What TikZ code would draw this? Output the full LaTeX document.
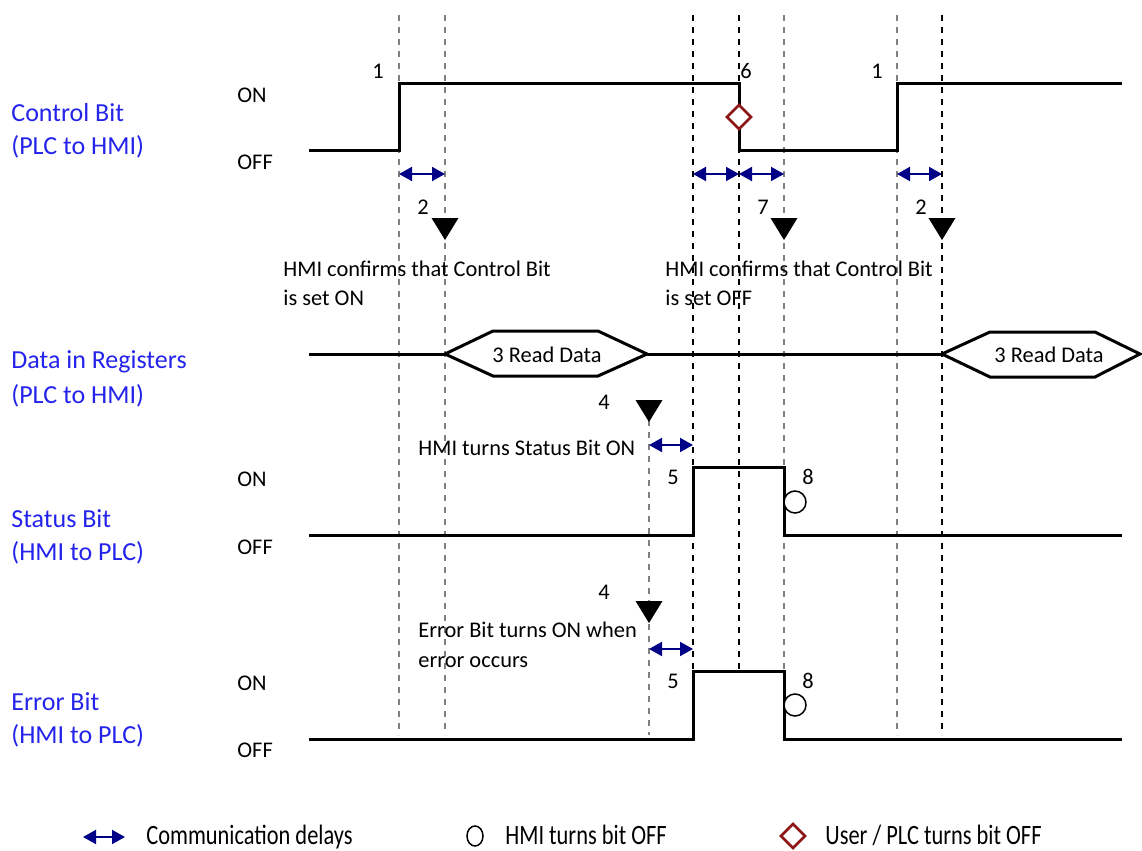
\documentclass[tikz,border=0pt]{standalone}
\usepackage{fontspec}
\setmainfont{Carlito}
\newfontfamily\keyfont{Carlito}[FakeStretch=0.8]
\usepackage{tikz}
\usetikzlibrary{arrows.meta}
\pgfdeclarelayer{edgelayer}
\pgfdeclarelayer{nodelayer}
\pgfsetlayers{edgelayer,nodelayer,main}
\definecolor{labelblue}{RGB}{35,35,235}
\definecolor{delayblue}{RGB}{0,0,135}
\definecolor{offred}{RGB}{140,22,22}
\tikzstyle{guide}=[draw=black!50, line width=0.75pt, dash pattern=on 3pt off 3pt]
\tikzstyle{darkguide}=[guide, draw=black]
\tikzstyle{wave}=[draw=black, line width=1.5pt, line join=miter]
\tikzstyle{delay}=[draw=delayblue, line width=1pt, {Triangle[length=6.5pt,width=7pt]}-{Triangle[length=6.5pt,width=7pt]}]
\tikzstyle{rowlabel}=[anchor=base west, inner sep=0pt, text=labelblue, font=\fontsize{13}{15}\selectfont]
\tikzstyle{onoff}=[anchor=base west, inner sep=0pt, font=\fontsize{11.2}{13}\selectfont]
\tikzstyle{note}=[anchor=base west, inner sep=0pt, font=\fontsize{11.2}{13}\selectfont]
\tikzstyle{num}=[anchor=base, inner sep=0pt, font=\fontsize{11.2}{13}\selectfont]
\tikzstyle{keytext}=[anchor=base west, inner sep=0pt, font=\keyfont\fontsize{14}{16}\selectfont]
\tikzstyle{hmioff}=[draw=black, fill=white, line width=0.75pt]
\tikzstyle{useroff}=[draw=offred, fill=white, line width=1.25pt]
\newcommand{\trig}[1]{\fill #1 -- ++(-13.5,-22) -- ++(27,0) -- cycle;}
\newcommand{\offmark}[1]{\draw [style=useroff] #1 ++(0,-12) -- ++(12,12) -- ++(-12,12) -- ++(-12,-12) -- cycle;}

\begin{document}
\begin{tikzpicture}[x=0.5pt, y=-0.5pt]
	\useasboundingbox (0,0) rectangle (1142,851);
	\begin{pgfonlayer}{edgelayer}
		\draw [style=guide] (399,15) -- (399,735);
		\draw [style=guide] (445,15) -- (445,735);
		\draw [style=guide] (649,420) -- (649,735);
		\draw [style=darkguide] (693,15) -- (693,738);
		\draw [style=darkguide] (739,15) -- (739,671);
		\draw [style=guide] (784,15) -- (784,671);
		\draw [style=guide] (897,15) -- (897,735);
		\draw [style=darkguide] (942,15) -- (942,735);
	\end{pgfonlayer}
	\begin{pgfonlayer}{nodelayer}
		% signals
		\draw [style=wave] (309,150) -- (399,150) -- (399,83) -- (739,83) -- (739,150) -- (897,150) -- (897,83) -- (1122,83);
		\draw [style=wave] (309,354) -- (445,354);
		\draw [style=wave] (647,354) -- (942,354);
		\draw [style=wave, fill=white] (445,354) -- (493,331) -- (598,331) -- (647,354) -- (598,376) -- (493,376) -- cycle;
		\draw [style=wave, fill=white] (942,354) -- (990,332) -- (1095,332) -- (1140,354) -- (1095,377) -- (990,377) -- cycle;
		\draw [style=wave] (309,535) -- (693,535) -- (693,467) -- (784,467) -- (784,535) -- (1122,535);
		\draw [style=wave] (309,739) -- (693,739) -- (693,671) -- (784,671) -- (784,739) -- (1122,739);
		% delays
		\draw [style=delay] (399,174) -- (445,174);
		\draw [style=delay] (693,174) -- (739,174);
		\draw [style=delay] (739,174) -- (784,174);
		\draw [style=delay] (897,174) -- (942,174);
		\draw [style=delay] (649,445) -- (693,445);
		\draw [style=delay] (649,649) -- (693,649);
		% markers
		\trig{(445,240)}
		\trig{(784,240)}
		\trig{(942,240)}
		\trig{(649,422)}
		\trig{(649,623)}
		\offmark{(739,117)}
		\draw [style=hmioff] (795,502) circle [radius=11];
		\draw [style=hmioff] (795,705) circle [radius=11];
	\end{pgfonlayer}
	\node [style=rowlabel] (c1) at (11,121) {Control Bit};
	\node [style=rowlabel] (c2) at (11,154) {(PLC to HMI)};
	\node [style=rowlabel] (d1) at (11,368) {Data in Registers};
	\node [style=rowlabel] (d2) at (11,403) {(PLC to HMI)};
	\node [style=rowlabel] (s1) at (11,527) {Status Bit};
	\node [style=rowlabel] (s2) at (11,560) {(HMI to PLC)};
	\node [style=rowlabel] (e1) at (11,710) {Error Bit};
	\node [style=rowlabel] (e2) at (11,743) {(HMI to PLC)};
	\node [style=onoff] (on1) at (237,102) {ON};
	\node [style=onoff] (off1) at (237,169) {OFF};
	\node [style=onoff] (on2) at (237,486) {ON};
	\node [style=onoff] (off2) at (237,554) {OFF};
	\node [style=onoff] (on3) at (237,690) {ON};
	\node [style=onoff] (off3) at (237,757) {OFF};
	\node [style=num] (1) at (378,78) {1};
	\node [style=num] (2) at (746,78) {6};
	\node [style=num] (3) at (877,78) {1};
	\node [style=num] (4) at (423,214) {2};
	\node [style=num] (5) at (763,214) {7};
	\node [style=num] (6) at (921,214) {2};
	\node [style=num] (7) at (604,409) {4};
	\node [style=num] (8) at (673,484) {5};
	\node [style=num] (9) at (808,484) {8};
	\node [style=num] (10) at (604,599) {4};
	\node [style=num] (11) at (673,688) {5};
	\node [style=num] (12) at (808,688) {8};
	\node [style=num] (r1) at (547,362) {3 Read Data};
	\node [style=num] (r2) at (1049,362) {3 Read Data};
	\node [style=note] (n1) at (283,276) {HMI confirms that Control Bit};
	\node [style=note] (n2) at (283,305) {is set ON};
	\node [style=note] (n3) at (665,276) {HMI confirms that Control Bit};
	\node [style=note] (n4) at (665,305) {is set OFF};
	\node [style=note] (n5) at (418,455) {HMI turns Status Bit ON};
	\node [style=note] (n6) at (418,637) {Error Bit turns ON when};
	\node [style=note] (n7) at (418,667) {error occurs};
	% legend
	\coordinate (k1) at (83,837);
	\coordinate (k2) at (125,837);
	\draw [style=delay] (k1) -- (k2);
	\node [style=keytext] (k3) at (146,844) {Communication delays};
	\draw [style=hmioff] (475,836) ellipse [x radius=8, y radius=10];
	\node [style=keytext] (k4) at (505,844) {HMI turns bit OFF};
	\offmark{(793,836)}
	\node [style=keytext] (k5) at (825,844) {User / PLC turns bit OFF};
\end{tikzpicture}
\end{document}
